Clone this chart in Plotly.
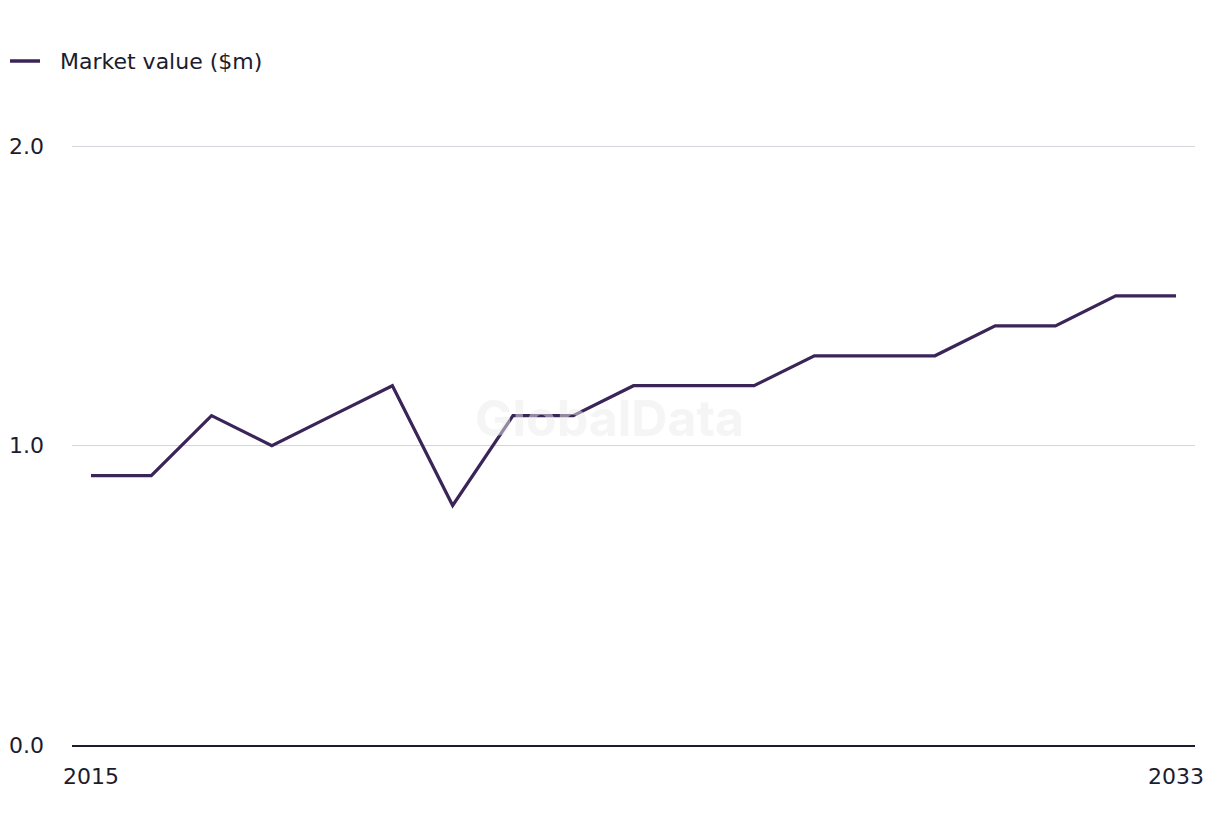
import plotly.graph_objects as go

years = list(range(2015, 2034))
market_value = [0.9, 0.9, 1.1, 1.0, 1.1, 1.2, 0.8, 1.1, 1.1, 1.2, 1.2, 1.2, 1.3, 1.3, 1.3, 1.4, 1.4, 1.5, 1.5]
series_name = "Market value ($m)"
x_tick_vals = [2015, 2033]
y_tick_vals = [0, 1, 2]
y_tick_text = ["0.0", "1.0", "2.0"]

text_color = "#1c1c2e"
line_color = "#3a2458"
font_family = "'DejaVu Sans', Inter, Arial, sans-serif"

fig = go.Figure()
fig.add_trace(go.Scatter(
    x=years, y=market_value, mode="lines", name=series_name,
    line=dict(color=line_color, width=3.2), showlegend=False,
))

fig.update_layout(
    width=1220, height=836,
    margin=dict(l=72, r=25, t=145, b=91, autoexpand=False),
    paper_bgcolor="white", plot_bgcolor="white",
    font=dict(family=font_family, size=22, color=text_color),
    showlegend=False,
    xaxis=dict(range=[2014.685, 2033.315], tickvals=x_tick_vals, ticktext=[str(v) for v in x_tick_vals],
               showgrid=False, zeroline=False, showline=True, linecolor=text_color, linewidth=2,
               ticks="", ticklabelstandoff=11, automargin=False),
    yaxis=dict(range=[0, 2.004], tickvals=y_tick_vals, ticktext=y_tick_text,
               showgrid=True, gridcolor="#d5d5dc", gridwidth=1.2, zeroline=False, showline=False,
               ticks="", ticklabelstandoff=27, automargin=False),
    shapes=[dict(type="line", xref="paper", yref="paper", x0=-0.0552, x1=-0.0285, y0=1.14, y1=1.14,
                 line=dict(color=line_color, width=3.5))],
    annotations=[
        dict(text=series_name, x=-0.0125, y=1.14, xref="paper", yref="paper", xanchor="left",
             yanchor="middle", showarrow=False, font=dict(size=22, color=text_color)),
        dict(text="<b>GlobalData</b>", x=0.479, y=0.545, xref="paper", yref="paper",
             showarrow=False, font=dict(family="Inter, Arial, sans-serif", size=50,
                                        color="rgba(235,235,235,0.5)")),
    ],
)

fig.write_html("out.html")
